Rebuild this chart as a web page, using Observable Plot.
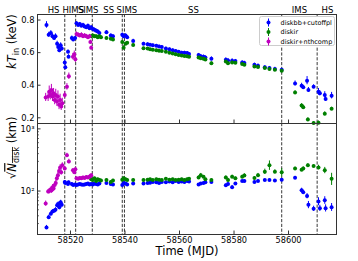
<!DOCTYPE html>
<html><head><meta charset="utf-8">
<script src="https://cdn.jsdelivr.net/npm/d3@7"></script>
<script src="https://cdn.jsdelivr.net/npm/@observablehq/plot@0.6"></script>
<style>
body{margin:0;background:#fff;}
#chart{position:relative;width:358px;height:261px;overflow:hidden;}
#chart svg{display:block;}
</style></head><body><div id="chart"></div>
<script>
// ---------- data ----------
const seriesNames = ["diskbb+cutoffpl", "diskir", "diskir+nthcomp"];
const seriesColors = ["#0000ff", "#008000", "#bf00bf"];

const stateBounds = [58517.9, 58521.9, 58528.0, 58539.0, 58539.8, 58597.5, 58610.5];
const stateNames = ["HS", "HIMS", "SIMS", "SS", "SIMS", "SS", "IMS", "HS"];
const stateNameX = [58513.8, 58521.0, 58526.5, 58534.0, 58540.7, 58565.1, 58604.0, 58614.3];

const xTicks = [58520, 58540, 58560, 58580, 58600];
const xTickLabels = ["58520", "58540", "58560", "58580", "58600"];
const ktTicks = [0.2, 0.4, 0.6, 0.8];
const ktTickLabels = ["0.2", "0.4", "0.6", "0.8"];
const nTicks = [100, 1000];
const nTickLabels = ["10²", "10³"];
const nMinorTicks = [20, 30, 40, 50, 60, 70, 80, 90, 200, 300, 400, 500, 600, 700, 800, 900];

// diskbb+cutoffpl
const mjdBB = [58511.2,58512.0,58512.8,58513.4,58514.0,58514.5,58515.1,58515.5,58515.9,58516.4,58516.8,58517.9,58518.1,58519.1,58519.3,58520.5,58521.0,58521.7,
58522.2,58522.8,58523.4,58524.0,58524.6,58525.2,58525.8,58526.4,58527.0,58527.6,58528.2,58528.8,58529.4,58530.0,58530.6,
58533.2,58534.8,58535.6,58539.0,58539.5,58540.2,58540.8,58543.0,
58546.8,58548.3,58549.2,58550.2,58551.5,58552.5,58553.5,58555.0,58556.3,58557.5,58558.6,58559.7,58560.8,58561.8,58562.8,58563.5,
58567.0,58567.8,58568.8,58569.5,58571.7,58577.0,58577.8,58579.3,58580.5,58583.0,58583.8,58587.5,58588.8,58591.3,58593.0,58595.0,58597.5,
58602.4,58604.8,58605.4,58606.8,58607.3,58609.2,58611.0,58611.5,58613.3,58613.6,58615.8];
const ktBB = [0.77,0.71,0.72,0.70,0.69,0.70,0.655,0.635,0.615,0.645,0.625,0.54,0.51,0.605,0.575,0.69,0.68,0.69,
0.78,0.77,0.775,0.765,0.77,0.76,0.755,0.765,0.75,0.755,0.745,0.74,0.735,0.73,0.72,
0.725,0.705,0.70,0.71,0.70,0.705,0.695,0.672,
0.655,0.652,0.648,0.645,0.642,0.638,0.635,0.625,0.62,0.615,0.61,0.605,0.60,0.60,0.598,0.592,
0.585,0.578,0.575,0.57,0.562,0.556,0.552,0.55,0.548,0.54,0.537,0.525,0.52,0.51,0.505,0.50,0.495,
0.411,0.397,0.387,0.428,0.371,0.391,0.36,0.35,0.34,0.316,0.336];
const ktErrBB = [0.02,0.015,0.015,0.015,0.015,0.015,0.015,0.015,0.015,0.015,0.015,0.015,0.015,0.012,0.012,0.012,0.012,0.01,
0.01,0.01,0.01,0.01,0.01,0.01,0.01,0.01,0.01,0.01,0.01,0.01,0.01,0.01,0.01,
0.01,0.01,0.01,0.01,0.01,0.01,0.01,0.01,
0.008,0.008,0.008,0.008,0.008,0.008,0.008,0.008,0.008,0.008,0.008,0.008,0.008,0.008,0.008,0.008,
0.01,0.01,0.01,0.01,0.012,0.012,0.012,0.012,0.01,0.01,0.01,0.01,0.01,0.01,0.01,0.01,0.01,
0.015,0.015,0.012,0.025,0.015,0.012,0.02,0.015,0.02,0.015,0.02];
const nBB = [26,38,43,47,48,50,59,62,55,66,60,140,135,130,138,130,125,128,
125,128,130,127,126,128,130,132,128,130,127,132,130,128,132,
135,130,128,125,135,132,128,132,
132,135,136,140,138,135,140,138,142,138,145,140,142,140,145,143,
127,132,135,138,140,124,130,115,132,145,145,140,145,150,150,148,152,
164,103,96,83,60,52,68,53,71,53,55];
const nErrBB = [2,3,3,3,3,4,5,5,5,5,5,8,8,6,6,6,5,5,
4,4,4,4,4,4,4,4,4,4,4,4,4,4,4,
4,4,4,4,4,4,4,4,
4,4,4,4,4,4,4,4,4,4,4,4,4,4,4,4,
5,5,5,5,5,6,6,8,5,5,5,5,5,5,5,5,5,
8,8,7,8,8,5,10,6,10,7,8];

// diskir
const mjdIR = [58527.6,58528.2,58528.8,58529.4,58530.0,58530.6,58531.2,58533.2,58534.8,58535.6,58539.0,58539.5,58540.2,58540.8,58543.0,
58546.8,58548.3,58549.2,58550.2,58551.5,58552.5,58553.5,58555.0,58556.3,58557.5,58558.6,58559.7,58560.8,58561.8,58562.8,58563.5,
58567.0,58567.8,58568.8,58569.5,58571.7,58577.0,58577.8,58579.3,58580.5,58583.0,58583.8,58587.5,58588.8,58591.3,58593.0,58595.0,58597.5,
58602.4,58604.8,58605.4,58607.1,58609.2,58611.0,58613.3,58615.8];
const ktIR = [0.70,0.705,0.70,0.70,0.695,0.70,0.695,0.69,0.685,0.68,0.665,0.63,0.655,0.66,0.647,
0.627,0.625,0.62,0.618,0.615,0.612,0.61,0.605,0.60,0.595,0.59,0.585,0.582,0.58,0.578,0.575,
0.57,0.565,0.563,0.558,0.535,0.545,0.535,0.54,0.538,0.53,0.525,0.515,0.512,0.505,0.50,0.495,0.488,
0.356,0.275,0.265,0.19,0.168,0.17,0.225,0.255];
const ktErrIR = [0.008,0.008,0.008,0.008,0.008,0.008,0.008,0.008,0.008,0.008,0.008,0.012,0.008,0.008,0.008,
0.006,0.006,0.006,0.006,0.006,0.006,0.006,0.006,0.006,0.006,0.006,0.006,0.006,0.006,0.006,0.006,
0.008,0.008,0.008,0.008,0.008,0.008,0.008,0.008,0.008,0.008,0.008,0.008,0.008,0.008,0.008,0.008,0.01,
0.01,0.012,0.012,0.01,0.008,0.01,0.012,0.01];
const nIR = [155,150,160,145,155,150,148,150,140,148,152,160,155,150,150,
150,152,155,150,155,152,150,158,152,155,150,152,155,150,155,158,
165,180,170,155,150,165,150,170,160,170,178,162,180,205,260,205,200,
230,220,230,260,252,240,215,158];
const nErrIR = [6,6,6,6,6,6,6,6,6,6,6,8,6,6,6,
5,5,5,5,5,5,5,5,5,5,5,5,5,5,5,5,
10,12,8,6,6,10,10,10,8,10,12,8,12,20,45,15,30,
12,12,15,15,10,20,25,35];

// diskir+nthcomp
const mjdNT = [58510.9,58511.8,58512.2,58512.6,58513.0,58513.4,58513.8,58514.2,58514.6,58515.0,58515.4,58515.8,58516.2,58516.6,58517.0,
58517.9,58518.7,58519.4,58520.9,58521.4,58521.8,58522.2,58522.8,58523.4,58524.0,58524.6,58525.2,58525.8,58526.4,58527.0,58527.3,58527.6];
const ktNT = [0.325,0.33,0.36,0.34,0.37,0.33,0.35,0.31,0.34,0.30,0.33,0.28,0.31,0.27,0.29,
0.34,0.39,0.455,0.575,0.59,0.56,0.715,0.71,0.705,0.71,0.70,0.705,0.70,0.695,0.70,0.665,0.63];
const ktErrNT = [0.025,0.03,0.035,0.03,0.035,0.03,0.03,0.03,0.035,0.03,0.035,0.03,0.035,0.025,0.03,
0.02,0.02,0.02,0.02,0.02,0.02,0.012,0.012,0.012,0.012,0.012,0.012,0.012,0.012,0.012,0.012,0.012];
const nNT = [63,98,100,105,102,115,110,125,135,160,180,210,240,200,260,
230,375,300,215,200,225,160,158,162,160,165,162,168,165,170,175,180];
const nErrNT = [6,8,10,10,10,12,12,15,15,18,20,25,25,20,25,
20,30,25,15,15,15,8,8,8,8,8,8,8,8,8,8,10];

// ---------- tables ----------
const mk = (t, kt, ke, n, ne) => t.map((v, i) => ({t: v, kt: kt[i], ke: ke[i], n: n[i], ne: ne[i]}));
const series = [
  mk(mjdBB, ktBB, ktErrBB, nBB, nErrBB),
  mk(mjdIR, ktIR, ktErrIR, nIR, nErrIR),
  mk(mjdNT, ktNT, ktErrNT, nNT, nErrNT)
];

// ---------- layout ----------
const W = 358, ML = 37, MR = 22;
const PW = W - ML - MR;
const FONT = "DejaVu Sans";
const axisColor = "#333";
const xDomain = [58507.9, 58617.6];

function seriesMarks(key, errKey) {
  const out = [];
  series.forEach((data, i) => {
    out.push(Plot.ruleX(data, {x: "t", y1: d => d[key] - d[errKey], y2: d => d[key] + d[errKey], stroke: seriesColors[i], strokeWidth: 1}));
    out.push(Plot.dot(data, {x: "t", y: key, r: 2, fill: seriesColors[i], stroke: "none"}));
  });
  return out;
}

const vbar = {draw(ctx, size) { const h = Math.sqrt(size / Math.PI); ctx.moveTo(0, -h); ctx.lineTo(0, h); }};

// top panel
const TH = 123, TMT = 14;
const TPH = TH - TMT;
const legendMarks = [Plot.frame({fill: "white", stroke: "#ccc", rx: 2, insetLeft: 222, insetRight: 2, insetTop: 2, insetBottom: 78})];
seriesNames.forEach((name, i) => {
  legendMarks.push(Plot.dot([name], {frameAnchor: "top-right", dx: -68, dy: 8 + i * 9.5, r: 4, symbol: vbar, stroke: seriesColors[i], fill: "none", strokeWidth: 1}));
  legendMarks.push(Plot.dot([name], {frameAnchor: "top-right", dx: -68, dy: 8 + i * 9.5, r: 2, fill: seriesColors[i]}));
  legendMarks.push(Plot.text([name], {frameAnchor: "top-right", dx: -56, dy: 8 + i * 9.5, text: d => d, textAnchor: "start", lineAnchor: "middle", fontSize: 6.5, fill: "#000"}));
});

const topPlot = Plot.plot({
  width: W, height: TH, marginTop: TMT, marginBottom: 0, marginLeft: ML, marginRight: MR,
  style: {fontFamily: FONT, fontSize: "8.4px", background: "transparent", color: "#000", overflow: "visible"},
  x: {domain: xDomain, axis: null},
  y: {domain: [0.165, 0.834], axis: null},
  marks: [
    Plot.ruleX(stateBounds, {x: d => d, stroke: "#222", strokeDasharray: "3.2,1.6", strokeWidth: 0.9}),
    Plot.tickX(xTicks, {x: d => d, insetTop: TPH - 3.5, stroke: axisColor}),
    Plot.tickY(ktTicks, {y: d => d, insetRight: PW - 3.5, stroke: axisColor}),
    Plot.axisY(ktTicks, {label: null, tickSize: 0, tickPadding: 3, tickFormat: d => ktTickLabels[ktTicks.indexOf(d)], fontSize: 8.4, fill: "#000"}),
    ...seriesMarks("kt", "ke"),
    Plot.frame({stroke: axisColor, strokeWidth: 1}),
    ...legendMarks,
    Plot.text(stateNames, {x: stateNameX, text: d => d, frameAnchor: "top", lineAnchor: "bottom", dy: -2, fontSize: 8.5, fill: "#000"}),
    Plot.text(["kT_in (keV)"], {text: d => d, frameAnchor: "left", dx: -25, rotate: -90, fontSize: 11.5, fill: "#000"})
  ]
});

// bottom panel
const BH = 138, BMB = 27;
const BPH = BH - BMB;
const bottomPlot = Plot.plot({
  width: W, height: BH, marginTop: 0, marginBottom: BMB, marginLeft: ML, marginRight: MR,
  style: {fontFamily: FONT, fontSize: "8.4px", background: "transparent", color: "#000", overflow: "visible"},
  x: {domain: xDomain, axis: null},
  y: {type: "log", domain: [20, 1220], axis: null},
  marks: [
    Plot.ruleX(stateBounds, {x: d => d, stroke: "#222", strokeDasharray: "3.2,1.6", strokeWidth: 0.9}),
    Plot.tickX(xTicks, {x: d => d, insetTop: BPH - 3.5, stroke: axisColor}),
    Plot.tickY(nTicks, {y: d => d, insetRight: PW - 3.5, stroke: axisColor}),
    Plot.tickY(nMinorTicks, {y: d => d, insetRight: PW - 2, stroke: axisColor, strokeWidth: 0.7}),
    Plot.axisY(nTicks, {label: null, tickSize: 0, tickPadding: 3, tickFormat: d => nTickLabels[nTicks.indexOf(d)], fontSize: 8.4, fill: "#000"}),
    Plot.axisX(xTicks, {label: null, tickSize: 0, tickPadding: 2.5, tickFormat: d => xTickLabels[xTicks.indexOf(d)], fontSize: 8.2, fill: "#000"}),
    ...seriesMarks("n", "ne"),
    Plot.frame({stroke: axisColor, strokeWidth: 1}),
    Plot.text(["Time (MJD)"], {text: d => d, frameAnchor: "bottom", dy: 20, fontSize: 11.5, fill: "#000"}),
    Plot.text(["sqrtN_disk (km)"], {text: d => d, frameAnchor: "left", dx: -25, rotate: -90, fontSize: 11.5, fill: "#000"})
  ]
});

// rich text for axis labels
d3.select(topPlot).selectAll("text").filter(function() { return this.textContent === "kT_in (keV)"; })
  .html('<tspan font-style="italic">kT</tspan><tspan font-size="8" dy="3">in</tspan><tspan dy="-3"> (keV)</tspan>');
d3.select(bottomPlot).selectAll("text").filter(function() { return this.textContent === "sqrtN_disk (km)"; })
  .html('√<tspan font-style="italic" text-decoration="overline">N</tspan><tspan font-size="8" dy="3" text-decoration="overline">disk</tspan><tspan dy="-3"> (km)</tspan>');

const chart = document.getElementById("chart");
chart.appendChild(topPlot);
chart.appendChild(bottomPlot);
</script>
</body></html>
